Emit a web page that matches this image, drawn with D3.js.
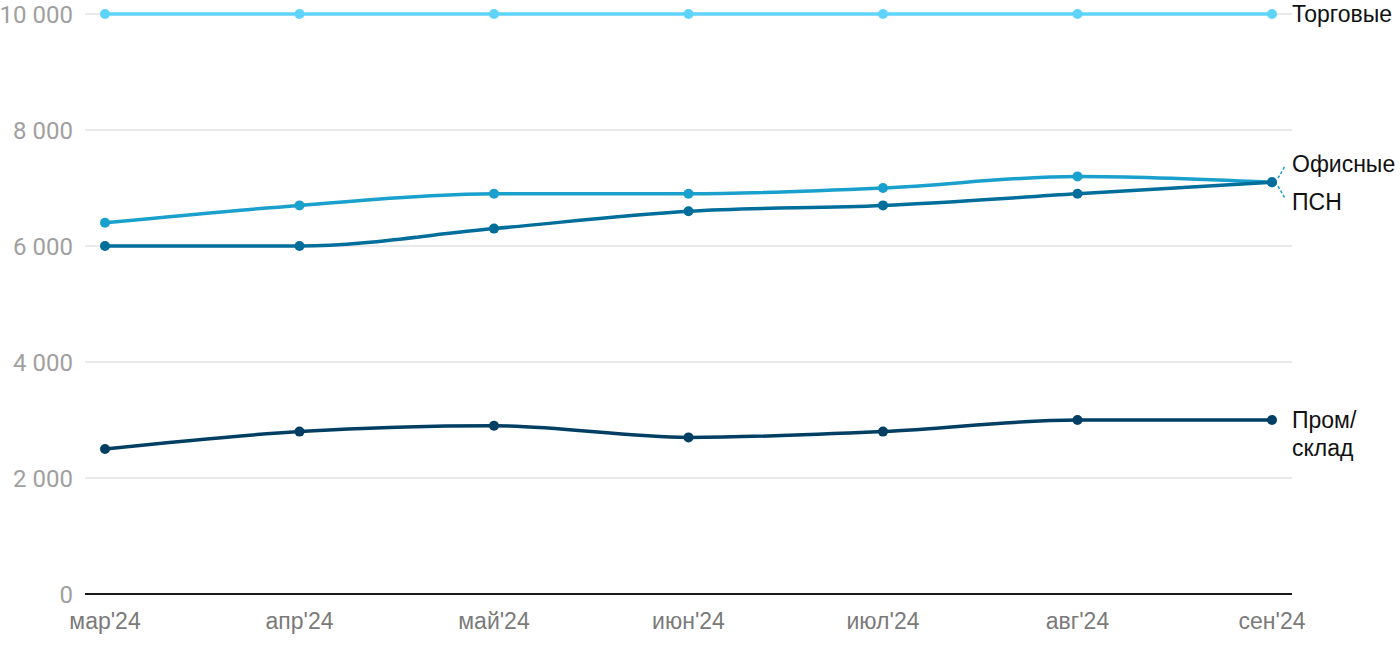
<!DOCTYPE html>
<html><head><meta charset="utf-8">
<script src="https://cdn.jsdelivr.net/npm/d3@7"></script>
<style>body{margin:0;background:#fff;}svg{display:block;}</style>
</head><body>
<svg id="c" width="1400" height="650"></svg>
<script>
const months = ["мар'24","апр'24","май'24","июн'24","июл'24","авг'24","сен'24"];
const yTicks = [0,2000,4000,6000,8000,10000];
const torgovye = [10000,10000,10000,10000,10000,10000,10000];
const ofisnye = [6400,6700,6900,6900,7000,7200,7100];
const psn = [6000,6000,6300,6600,6700,6900,7100];
const prom = [2500,2800,2900,2700,2800,3000,3000];

const series = [
  {name:"Торговые", values:torgovye, color:"#5fd4fa"},
  {name:"Офисные", values:ofisnye, color:"#1aa0cc"},
  {name:"ПСН", values:psn, color:"#006e9b"},
  {name:"Пром/склад", values:prom, color:"#003f63"}
];

const svg = d3.select("#c");
const x = d3.scalePoint().domain(months).range([105,1272]);
const y = d3.scaleLinear().domain([0,10000]).range([594,14]);
const fmt = v => d3.format(",")(v).replace(/,/g," ");

// grid
svg.append("g").selectAll("line").data(yTicks.filter(d=>d>0)).join("line")
  .attr("x1",85).attr("x2",1292).attr("y1",d=>y(d)).attr("y2",d=>y(d))
  .attr("stroke","#e3e3e3").attr("stroke-width",1.5);
svg.append("line").attr("x1",85).attr("x2",1292).attr("y1",y(0)).attr("y2",y(0))
  .attr("stroke","#1a1a1a").attr("stroke-width",2);

// y labels
svg.append("g").selectAll("text").data(yTicks).join("text")
  .attr("x",73).attr("y",d=>y(d)).attr("dy","0.36em").attr("text-anchor","end")
  .attr("font-family","Roboto, sans-serif").attr("font-size",24).attr("fill","#a0a0a0")
  .text(fmt);

// x labels
svg.append("g").selectAll("text").data(months).join("text")
  .attr("x",d=>x(d)).attr("y",629).attr("text-anchor","middle")
  .attr("font-family","'Liberation Sans', Arial, sans-serif").attr("font-size",23).attr("fill","#7a7a7a")
  .text(d=>d);

const line = d3.line().x((d,i)=>x(months[i])).y(d=>y(d)).curve(d3.curveMonotoneX);

series.forEach(s=>{
  svg.append("path").attr("d",line(s.values)).attr("fill","none")
    .attr("stroke",s.color).attr("stroke-width",3.5);
  svg.append("g").selectAll("circle").data(s.values).join("circle")
    .attr("cx",(d,i)=>x(months[i])).attr("cy",d=>y(d)).attr("r",5).attr("fill",s.color);
});

// right labels
const lx = 1292;
const lab = svg.append("g").attr("font-family","'Liberation Sans', Arial, sans-serif").attr("font-size",23).attr("fill","#111");
lab.append("text").attr("x",lx).attr("y",y(10000)).attr("dy","0.36em").text("Торговые");
lab.append("text").attr("x",lx).attr("y",164).attr("dy","0.36em").text("Офисные");
lab.append("text").attr("x",lx).attr("y",202).attr("dy","0.36em").text("ПСН");
lab.append("text").attr("x",lx).attr("y",420).attr("dy","0.36em").text("Пром/");
lab.append("text").attr("x",lx).attr("y",448).attr("dy","0.36em").text("склад");

// connectors
const px = x(months[6]), pyO = y(ofisnye[6]), pyP = y(psn[6]);
svg.append("line").attr("x1",px+6).attr("y1",pyO-4).attr("x2",px+13).attr("y2",pyO-16)
  .attr("stroke",series[1].color).attr("stroke-width",1.5).attr("stroke-dasharray","3,2");
svg.append("line").attr("x1",px+6).attr("y1",pyP+4).attr("x2",px+13).attr("y2",pyP+16)
  .attr("stroke",series[1].color).attr("stroke-width",1.5).attr("stroke-dasharray","3,2");
</script>
</body></html>
